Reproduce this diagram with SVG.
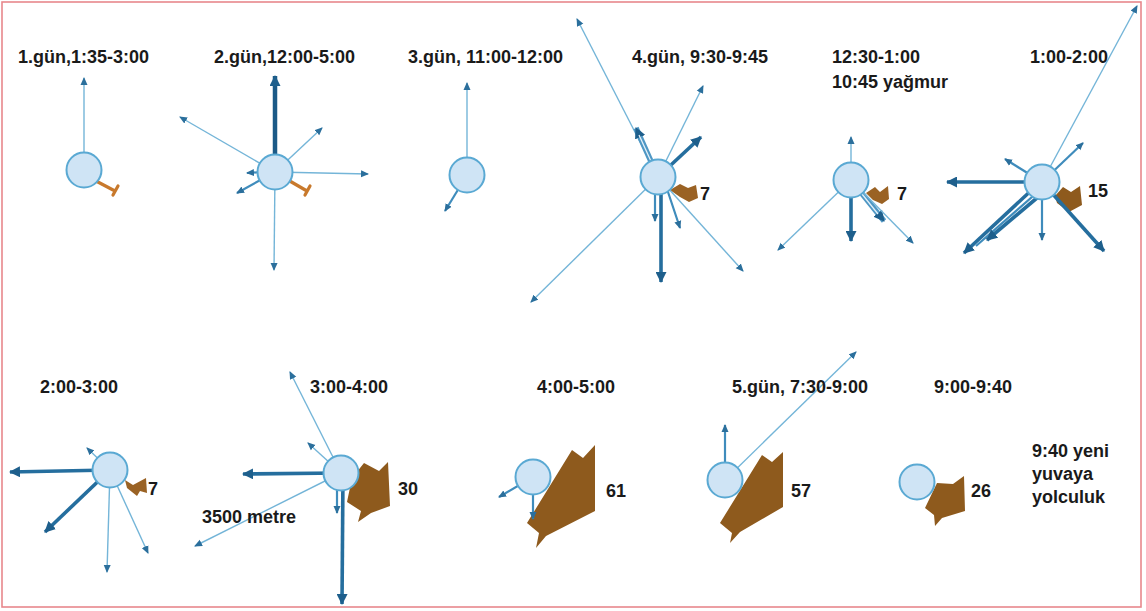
<svg xmlns="http://www.w3.org/2000/svg" width="1146" height="611" viewBox="0 0 1146 611">
<defs>
<marker id="ah" markerUnits="userSpaceOnUse" markerWidth="9" markerHeight="8" refX="7" refY="4" orient="auto"><path d="M0,0.5 L8,4 L0,7.5 z" fill="#2b6f9c"/></marker>
<marker id="ahb" markerUnits="userSpaceOnUse" markerWidth="12" markerHeight="11" refX="10" refY="5.5" orient="auto"><path d="M0,0 L11,5.5 L0,11 z" fill="#1e5f8c"/></marker>
<style>
.t{font-family:"Liberation Sans",Arial,sans-serif;font-weight:bold;font-size:18px;fill:#1a1a1a}
.thin{stroke:#74b5d8;stroke-width:1.4;fill:none;marker-end:url(#ah)}
.med{stroke:#3f8cbc;stroke-width:2.2;fill:none;marker-end:url(#ah)}
.thick{stroke:#256e9e;stroke-width:3.6;fill:none;marker-end:url(#ahb)}
.dark{stroke:#1b5a87;stroke-width:4.5;fill:none;marker-end:url(#ahb)}
.hat{stroke:#4f97c4;stroke-width:5.5;fill:none;marker-end:url(#ahb)}
.hatw{stroke:#e4f1f9;stroke-width:1.3;fill:none}
.stub{stroke:#c8792c;stroke-width:3.2;fill:none;stroke-linecap:round}
.sw{fill:#8e5a1d}
.fl{fill:#9a6224}
.c{fill:#cfe4f5;stroke:#5aa9d3;stroke-width:2}
</style>
</defs>
<rect x="2" y="2" width="1139" height="605" fill="#ffffff" stroke="#e8888c" stroke-width="1.6"/>

<g id="swarms">
<path class="stub" d="M96,181 L115,191 M118,186 L113,195"/>
<path class="stub" d="M288,180 L307,191 M310,186 L305,195"/>
<polygon class="fl" points="670,190 680,184 688,188 696,185 698,198 689,202 680,197"/>
<polygon class="fl" points="866,193 875,187 880,192 888,186 889,199 882,204 873,200"/>
<polygon class="sw" points="1055,196 1063,187 1071,192 1080,186 1082,205 1069,212 1057,203"/>
<polygon class="fl" points="125,480 133,485 146,478 147,493 140,491 137,496 127,488"/>
<polygon class="sw" points="352,478 364,463 379,471 388,462 390,506 371,513 358,522 361,511 347,502"/>
<polygon class="sw" points="527,523 572,450 583,458 595,445 595,511 546,536 536,548 539,533"/>
<polygon class="sw" points="720,523 762,455 772,462 783,452 783,507 740,532 730,543 732,533"/>
<polygon class="sw" points="925,508 937,483 953,484 964,476 965,511 942,518 935,526 934,515"/>
</g>

<g id="connectors">
<!-- panel 1 -->
<line class="thin" x1="84" y1="170" x2="84" y2="78"/>
<!-- panel 2 -->
<line class="dark" x1="275" y1="172" x2="275" y2="76"/>
<line class="thin" x1="275" y1="172" x2="180" y2="117"/>
<line class="thin" x1="275" y1="172" x2="322" y2="128"/>
<line class="thin" x1="275" y1="172" x2="368" y2="174"/>
<line class="med" x1="262" y1="172" x2="247" y2="173"/>
<line class="med" x1="275" y1="172" x2="237" y2="193"/>
<line class="thin" x1="275" y1="172" x2="274" y2="270"/>
<!-- panel 3 -->
<line class="thin" x1="467" y1="175" x2="467" y2="83"/>
<line class="med" x1="467" y1="175" x2="445" y2="211"/>
<!-- panel 4 -->
<line class="thin" x1="658" y1="177" x2="577" y2="19"/>
<line class="hat" x1="658" y1="177" x2="636" y2="128"/>
<line class="hatw" x1="655" y1="170" x2="639" y2="135"/>
<line class="thin" x1="658" y1="177" x2="703" y2="86"/>
<line class="thick" x1="658" y1="177" x2="701" y2="137"/>
<line class="thin" x1="658" y1="177" x2="531" y2="302"/>
<line class="thick" x1="661" y1="177" x2="661" y2="282"/>
<line class="med" x1="655" y1="177" x2="655" y2="221"/>
<line class="med" x1="663" y1="177" x2="680" y2="228"/>
<line class="thin" x1="658" y1="177" x2="743" y2="271"/>
<!-- panel 5 -->
<line class="thin" x1="851" y1="180" x2="851" y2="137"/>
<line class="thick" x1="851" y1="180" x2="851" y2="241"/>
<line class="thin" x1="851" y1="180" x2="778" y2="250"/>
<line class="hat" x1="851" y1="180" x2="884" y2="221"/>
<line class="hatw" x1="858" y1="189" x2="878" y2="214"/>
<line class="thin" x1="851" y1="180" x2="913" y2="243"/>
<!-- panel 6 -->
<line class="thin" x1="1042" y1="182" x2="1137" y2="6"/>
<line class="med" x1="1042" y1="182" x2="1083" y2="143"/>
<line class="med" x1="1042" y1="182" x2="1005" y2="159"/>
<line class="thick" x1="1042" y1="182" x2="947" y2="182"/>
<line class="thick" x1="1036" y1="186" x2="964" y2="253"/>
<line class="med" x1="1040" y1="190" x2="976" y2="246" style="marker-end:none"/>
<line class="thick" x1="1044" y1="192" x2="987" y2="240"/>
<line class="med" x1="1042" y1="182" x2="1042" y2="240"/>
<line class="thick" x1="1042" y1="182" x2="1104" y2="251"/>
<!-- panel 7 -->
<line class="thick" x1="110" y1="470" x2="10" y2="472"/>
<line class="thin" x1="110" y1="470" x2="87" y2="448"/>
<line class="thick" x1="110" y1="470" x2="45" y2="532"/>
<line class="thin" x1="110" y1="470" x2="107" y2="572"/>
<line class="thin" x1="110" y1="470" x2="148" y2="553"/>
<!-- panel 8 -->
<line class="thin" x1="341" y1="473" x2="290" y2="372"/>
<line class="thin" x1="341" y1="473" x2="308" y2="443"/>
<line class="thick" x1="341" y1="473" x2="243" y2="474"/>
<line class="thin" x1="341" y1="473" x2="195" y2="546"/>
<line class="med" x1="337" y1="473" x2="337" y2="513"/>
<line class="thick" x1="343" y1="473" x2="342" y2="604"/>
<!-- panel 9 -->
<line class="med" x1="533" y1="477" x2="499" y2="497"/>
<line class="med" x1="533" y1="477" x2="533" y2="519"/>
<!-- panel 10 -->
<line class="med" x1="725" y1="480" x2="725" y2="425"/>
<line class="thin" x1="725" y1="480" x2="856" y2="352"/>
</g>

<g id="node-p1"><circle class="c" cx="84" cy="170" r="17.5"/></g>
<g id="node-p2"><circle class="c" cx="275" cy="172" r="17.5"/></g>
<g id="node-p3"><circle class="c" cx="467" cy="175" r="17.5"/></g>
<g id="node-p4"><circle class="c" cx="658" cy="177" r="17.5"/></g>
<g id="node-p5"><circle class="c" cx="851" cy="180" r="17.5"/></g>
<g id="node-p6"><circle class="c" cx="1042" cy="182" r="17.5"/></g>
<g id="node-p7"><circle class="c" cx="110" cy="470" r="17.5"/></g>
<g id="node-p8"><circle class="c" cx="341" cy="473" r="17.5"/></g>
<g id="node-p9"><circle class="c" cx="533" cy="477" r="17.5"/></g>
<g id="node-p10"><circle class="c" cx="725" cy="480" r="17.5"/></g>
<g id="node-p11"><circle class="c" cx="917" cy="482" r="17.5"/></g>

<g id="labels">
<text class="t" x="18" y="63">1.gün,1:35-3:00</text>
<text class="t" x="214" y="63">2.gün,12:00-5:00</text>
<text class="t" x="408" y="63">3.gün, 11:00-12:00</text>
<text class="t" x="632" y="63">4.gün, 9:30-9:45</text>
<text class="t" x="832" y="63">12:30-1:00</text>
<text class="t" x="832" y="88">10:45 yağmur</text>
<text class="t" x="1030" y="63">1:00-2:00</text>
<text class="t" x="700" y="200">7</text>
<text class="t" x="897" y="200">7</text>
<text class="t" x="1088" y="197">15</text>
<text class="t" x="40" y="393">2:00-3:00</text>
<text class="t" x="310" y="393">3:00-4:00</text>
<text class="t" x="537" y="393">4:00-5:00</text>
<text class="t" x="732" y="393">5.gün, 7:30-9:00</text>
<text class="t" x="934" y="393">9:00-9:40</text>
<text class="t" x="148" y="495">7</text>
<text class="t" x="398" y="495">30</text>
<text class="t" x="202" y="523">3500 metre</text>
<text class="t" x="606" y="497">61</text>
<text class="t" x="791" y="497">57</text>
<text class="t" x="971" y="497">26</text>
<text class="t" x="1032" y="457">9:40 yeni</text>
<text class="t" x="1032" y="480">yuvaya</text>
<text class="t" x="1032" y="503">yolculuk</text>
</g>
</svg>
